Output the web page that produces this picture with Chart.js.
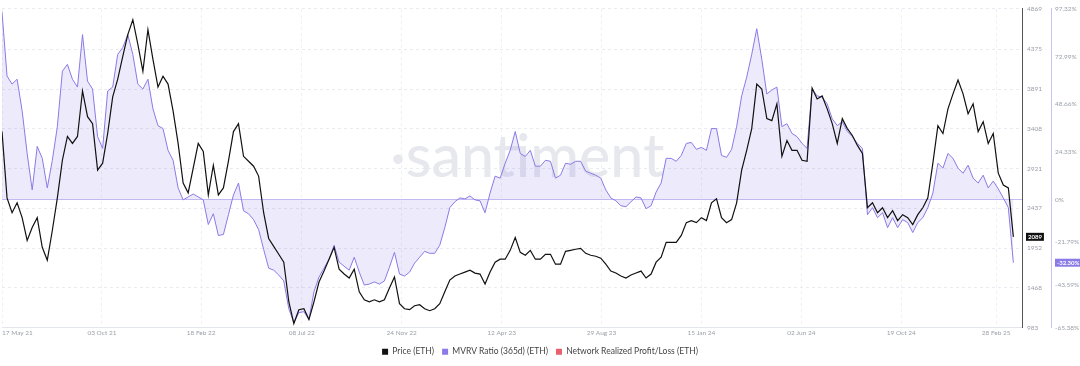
<!DOCTYPE html>
<html>
<head>
<meta charset="utf-8">
<script src="https://cdn.jsdelivr.net/npm/chart.js@4.4.1/dist/chart.umd.min.js"></script>
<style>
  html, body { margin: 0; padding: 0; background: #fff; }
  #wrap { width: 1080px; height: 366px; position: relative; }
</style>
</head>
<body>
<div id="wrap"><canvas id="chart"></canvas></div>
<script>
// weekly samples, first one on 17 May 21
const startDate = '2021-05-17';
const stepDays = 7;
const axisEndDay = 1419;

const priceEth = [
  3373, 2564, 2383, 2504, 2323, 2045, 2202, 2323, 1961, 1804,
  2166, 2564, 3023, 3313, 3228, 3313, 3868, 3554, 3469, 2902,
  2987, 3349, 3795, 4013, 4290, 4556, 4737, 4435, 4109, 4616,
  4254, 3916, 4049, 3952, 3626, 3228, 2745, 2625, 2926, 3228,
  3131, 2600, 2962, 2600, 2685, 3011, 3373, 3469, 3071, 3011,
  2950, 2830, 2383, 2069, 1973, 1876, 1780, 1297, 1031, 1200,
  1212, 1080, 1297, 1538, 1671, 1816, 1961, 1695, 1635, 1587,
  1695, 1418, 1321, 1297, 1321, 1297, 1321, 1466, 1599, 1273,
  1212, 1200, 1249, 1261, 1212, 1188, 1212, 1273, 1418, 1562,
  1611, 1635, 1659, 1683, 1647, 1635, 1514, 1659, 1780, 1816,
  1816, 1924, 2081, 1900, 1864, 1924, 1816, 1816, 1876, 1876,
  1755, 1755, 1912, 1924, 1937, 1949, 1888, 1864, 1852, 1828,
  1755, 1671, 1647, 1611, 1587, 1623, 1647, 1671, 1587, 1635,
  1780, 1840, 2021, 2021, 2021, 2106, 2262, 2287, 2262, 2323,
  2287, 2504, 2552, 2323, 2262, 2299, 2504, 2902, 3144, 3409,
  3952, 3892, 3530, 3506, 3711, 3071, 3264, 3144, 3144, 3023,
  3011, 3904, 3771, 3807, 3650, 3469, 3228, 3530, 3409, 3325,
  3204, 3107, 2443, 2504, 2383, 2443, 2323, 2407, 2287, 2359,
  2323, 2238, 2359, 2443, 2564, 2987, 3445, 3349, 3650, 3832,
  4001, 3832, 3590, 3711, 3373, 3494, 3228, 3349, 2866, 2721,
  2685, 2089
];

const mvrvRatio = [
  95.8, 63.0, 58.9, 61.4, 45.3, 23.5, 4.9, 27.1, 21.0, 5.9,
  20.0, 37.2, 65.5, 69.0, 61.4, 57.4, 84.2, 60.4, 56.4, 32.1,
  26.1, 55.4, 57.4, 74.1, 77.6, 84.2, 74.1, 58.9, 56.4, 61.4,
  46.3, 37.7, 36.2, 25.1, 20.0, 5.9, -0.2, 1.3, 2.8, 1.3,
  -0.2, -12.8, -7.3, -18.4, -17.9, -7.8, 2.3, 8.4, -5.8, -7.3,
  -10.3, -15.4, -25.5, -35.1, -36.1, -38.6, -41.6, -55.8, -62.9, -57.8,
  -57.3, -61.3, -47.2, -39.6, -35.1, -30.5, -23.4, -32.0, -34.1, -36.1,
  -29.5, -37.1, -43.7, -43.2, -42.1, -43.2, -41.6, -34.6, -27.0, -38.1,
  -39.1, -37.1, -32.5, -29.5, -26.5, -27.5, -27.5, -23.4, -14.4, -4.2,
  -1.2, 0.8, 0.3, 1.8, -0.2, -0.7, -6.8, 3.3, 11.9, 10.9,
  18.5, 25.1, 34.7, 23.5, 22.0, 25.1, 17.0, 17.0, 20.0, 19.5,
  10.9, 12.4, 18.5, 18.0, 19.5, 19.5, 14.5, 13.4, 12.4, 10.9,
  4.9, 0.8, -0.7, -3.2, -3.7, -1.2, 1.3, 0.8, -4.7, -3.2,
  3.8, 8.4, 21.0, 21.0, 19.5, 22.5, 28.6, 29.1, 25.6, 26.6,
  25.1, 36.2, 36.2, 22.5, 21.5, 25.6, 37.2, 52.9, 62.5, 74.1,
  87.2, 71.6, 53.9, 55.9, 57.4, 37.2, 38.7, 33.7, 32.1, 28.6,
  26.1, 56.4, 52.9, 52.3, 48.8, 41.2, 37.7, 39.7, 34.7, 32.1,
  28.6, 26.1, -7.8, -4.2, -9.3, -6.8, -14.4, -9.3, -14.4, -10.3,
  -11.8, -16.9, -11.8, -9.3, -4.2, 3.3, 18.5, 16.0, 23.5, 21.0,
  16.0, 13.4, 17.5, 10.9, 8.4, 12.4, 5.9, 9.4, 5.4, 0.8,
  -4.2, -32.3
];

const nrplEth = [];

const tickDates = ['2021-05-17', '2021-10-03', '2022-02-18', '2022-07-08', '2022-11-24', '2023-04-12',
  '2023-08-29', '2024-01-15', '2024-06-02', '2024-10-19', '2025-02-28'];
const tickLabels = ['17 May 21', '03 Oct 21', '18 Feb 22', '08 Jul 22', '24 Nov 22', '12 Apr 23',
  '29 Aug 23', '15 Jan 24', '02 Jun 24', '19 Oct 24', '28 Feb 25'];
const priceTicks = [983, 1468, 1952, 2437, 2921, 3408, 3891, 4375, 4869];
const mvrvTicks = [-65.38, -43.59, -21.79, 0, 24.33, 48.66, 72.99, 97.32];

const dayOf = d => (Date.parse(d) - Date.parse(startDate)) / 864e5;
const tickDays = tickDates.map(dayOf);
const toPoints = arr => arr.map((v, i) => ({ x: i * stepDays, y: v }));

const PURPLE = '#8a7be6';
const labelColor = '#9a9fa8';
const tickFont = { size: 6.5, family: 'Lato, sans-serif' };

const watermark = {
  id: 'watermark',
  beforeDatasetsDraw(chart) {
    const { ctx, chartArea } = chart;
    ctx.save();
    ctx.fillStyle = '#e6e8ee';
    ctx.font = '500 59px Lato, sans-serif';
    ctx.textAlign = 'center';
    ctx.textBaseline = 'alphabetic';
    const cx = chartArea.left + chartArea.width * 0.515;
    ctx.fillText('\u00b7santiment', cx, 177);
    ctx.restore();
  }
};

// last-value tags on the two right axes
const lastTags = {
  id: 'lastTags',
  afterDraw(chart) {
    const { ctx } = chart;
    const tag = (scale, value, text, bg) => {
      const y = scale.getPixelForValue(value);
      ctx.save();
      ctx.font = 'bold 6px Lato, sans-serif';
      const w = ctx.measureText(text).width + 4;
      const x = scale.left + 4;
      ctx.fillStyle = bg;
      ctx.fillRect(x, y - 4, w, 8);
      ctx.fillStyle = '#fff';
      ctx.textBaseline = 'middle';
      ctx.fillText(text, x + 2, y + 0.5);
      ctx.restore();
    };
    const p = priceEth[priceEth.length - 1];
    const m = mvrvRatio[mvrvRatio.length - 1];
    tag(chart.scales.price, p, String(p), '#111');
    tag(chart.scales.mvrv, m, m.toFixed(2) + '%', PURPLE);
  }
};

new Chart(document.getElementById('chart'), {
  type: 'line',
  data: {
    datasets: [
      {
        label: 'Price (ETH)',
        data: toPoints(priceEth),
        yAxisID: 'price',
        borderColor: '#111',
        backgroundColor: '#111',
        borderWidth: 1.2,
        pointRadius: 0,
        fill: false,
        order: 0
      },
      {
        label: 'MVRV Ratio (365d) (ETH)',
        data: toPoints(mvrvRatio),
        yAxisID: 'mvrv',
        borderColor: PURPLE,
        backgroundColor: 'rgba(138,123,230,0.16)',
        borderWidth: 1,
        pointRadius: 0,
        fill: 'origin',
        order: 1
      },
      {
        label: 'Network Realized Profit/Loss (ETH)',
        data: nrplEth,
        yAxisID: 'price',
        borderColor: '#e8606e',
        backgroundColor: '#e8606e',
        pointRadius: 0,
        order: 2
      }
    ]
  },
  options: {
    responsive: true,
    maintainAspectRatio: false,
    animation: false,
    layout: { autoPadding: false, padding: { top: 4, left: 0, right: 0, bottom: 0 } },
    plugins: {
      tooltip: { enabled: false },
      legend: {
        position: 'bottom',
        labels: {
          boxWidth: 6,
          boxHeight: 6,
          padding: 8,
          color: '#444',
          font: { size: 8.5, family: 'Lato, sans-serif' },
          generateLabels(chart) {
            const items = Chart.defaults.plugins.legend.labels.generateLabels(chart);
            items.forEach(it => {
              const ds = chart.data.datasets[it.datasetIndex];
              it.fillStyle = ds.borderColor;
              it.strokeStyle = ds.borderColor;
              it.lineWidth = 0;
            });
            return items;
          }
        }
      }
    },
    scales: {
      x: {
        type: 'linear',
        min: 0,
        max: axisEndDay,
        afterBuildTicks(scale) {
          scale.ticks = tickDays.map(v => ({ value: v })).concat([{ value: axisEndDay }]);
        },
        afterFit(scale) { scale.height = 12; },
        ticks: {
          autoSkip: false,
          maxRotation: 0,
          align: 'inner',
          padding: 2,
          color: labelColor,
          font: tickFont,
          callback(value, index) { return tickLabels[index] || ''; }
        },
        grid: { color: '#eef0f3', drawTicks: false },
        border: { color: '#e3e6ea', dash: [3, 3] }
      },
      price: {
        type: 'linear',
        position: 'right',
        min: 983,
        max: 4869,
        afterBuildTicks(scale) { scale.ticks = priceTicks.map(v => ({ value: v })); },
        afterFit(scale) { scale.width = 29; },
        ticks: {
          padding: 5,
          color: labelColor,
          font: tickFont,
          callback(value) { return String(value); }
        },
        grid: { color: '#e8ebef', drawTicks: false },
        border: { color: '#555', width: 1, dash: [3, 3] }
      },
      mvrv: {
        type: 'linear',
        position: 'right',
        min: -65.38,
        max: 97.32,
        afterBuildTicks(scale) { scale.ticks = mvrvTicks.map(v => ({ value: v })); },
        afterFit(scale) { scale.width = 29; },
        ticks: {
          padding: 4,
          color: labelColor,
          font: tickFont,
          callback(value) { return value === 0 ? '0%' : value.toFixed(2) + '%'; }
        },
        grid: {
          drawTicks: false,
          color: ctx => (ctx.tick && ctx.tick.value === 0 ? '#c6bef3' : 'rgba(0,0,0,0)')
        },
        border: { color: '#c9c2f3', width: 1 }
      }
    }
  },
  plugins: [watermark, lastTags]
});
</script>
</body>
</html>
